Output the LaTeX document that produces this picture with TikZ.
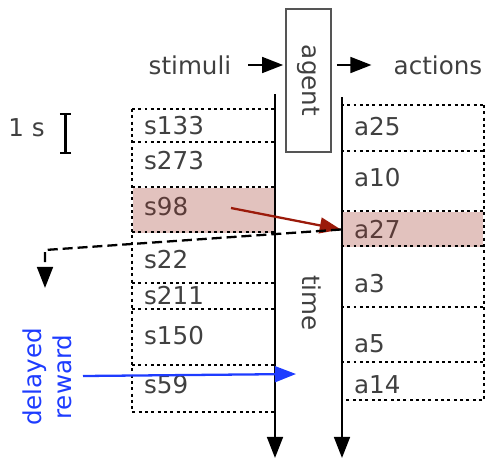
\documentclass[tikz,border=0pt]{standalone}
\usepackage{fontspec}
\setmainfont{DejaVu Sans}
\usetikzlibrary{arrows.meta}
\definecolor{txtgrey}{HTML}{404040}
\definecolor{agentgrey}{HTML}{555555}
\definecolor{hilite}{HTML}{E2C2BE}
\definecolor{hitext}{HTML}{5A3C39}
\definecolor{credit}{HTML}{9B1A0A}
\definecolor{rewardblue}{HTML}{1E3CFF}
\begin{document}
\begin{tikzpicture}[
  x=0.2cm, y=-0.2cm,
  every node/.style={font=\fontsize{14}{17}\selectfont, text=txtgrey, inner sep=0pt},
  slot/.style={minimum width=2.84cm},
  aslot/.style={minimum width=2.82cm},
  dots/.style={line width=1.4pt, dash pattern=on 1.7pt off 1.9pt},
  lbl/.style={anchor=west},
  >={Triangle[length=12pt,width=9pt]}, line width=1.3pt
]
  \useasboundingbox (0,0) rectangle (48.5,45.9);

  \node[slot, minimum height=0.66cm] (b133) at (20.4,12.65) {};
  \node[slot, minimum height=0.9cm]  (b273) at (20.4,16.55) {};
  \node[slot, fill=hilite, minimum height=0.9cm] (b98) at (20.4,21.05) {};
  \node[slot, minimum height=1.02cm] (b22)  at (20.4,25.85) {};
  \node[slot, minimum height=0.52cm] (b211) at (20.4,29.7)  {};
  \node[slot, minimum height=1.12cm] (b150) at (20.4,33.8)  {};
  \node[slot, minimum height=0.9cm]  (b59)  at (20.4,38.85) {};

  \node[aslot, minimum height=0.92cm] (b25) at (41.25,12.9)  {};
  \node[aslot, minimum height=1.2cm]  (b10) at (41.25,18.2)  {};
  \node[aslot, fill=hilite, minimum height=0.7cm] (b27) at (41.25,22.95) {};
  \node[aslot, minimum height=1.22cm] (b3)  at (41.25,27.75) {};
  \node[aslot, minimum height=1.1cm]  (b5)  at (41.25,33.55) {};
  \node[aslot, minimum height=0.72cm] (b14) at (41.25,38.1)  {};

  \foreach \b in {b133,b273,b98,b22,b211,b150,b59,b25,b10,b27,b3,b5,b14}
    \draw[dots] (\b.north west) -- (\b.north east);
  \draw[dots] (b133.north west) -- (b59.south west) -- (b59.south east);
  \draw[dots] (b25.north east) -- (b14.south east) -- (b14.south west);

  \node[lbl] (s133) at (14.3,12.6) {s133};
  \node[lbl] (s273) at (14.3,16.1) {s273};
  \node[lbl, text=hitext] (s98) at (14.3,20.7) {s98};
  \node[lbl] (s22)  at (14.3,26.0) {s22};
  \node[lbl] (s211) at (14.3,29.6) {s211};
  \node[lbl] (s150) at (14.3,33.6) {s150};
  \node[lbl] (s59)  at (14.3,38.5) {s59};

  \node[lbl] (a25) at (35.3,12.7) {a25};
  \node[lbl] (a10) at (35.3,17.8) {a10};
  \node[lbl, text=hitext] (a27) at (35.3,23.0) {a27};
  \node[lbl] (a3)  at (35.3,28.4) {a3};
  \node[lbl] (a5)  at (35.3,34.4) {a5};
  \node[lbl] (a14) at (35.3,38.5) {a14};

  \coordinate (ltop) at (27.5,9.4);
  \coordinate (lend) at (27.5,45.8);
  \coordinate (rtop) at (34.2,9.7);
  \coordinate (rend) at (34.2,45.8);
  \draw[->] (ltop) -- (lend);
  \draw[->] (rtop) -- (rend);

  \node[draw=agentgrey, fill=white, line width=1.2pt, minimum width=0.9cm, minimum height=2.86cm] (agent) at (30.85,8.05) {\rotatebox{-90}{agent}};
  \node (stimuli) at (19.0,6.5) {stimuli};
  \node (actions) at (43.8,6.5) {actions};
  \node[rotate=-90] (time) at (31.2,30.3) {time};
  \node (onesec) at (2.65,12.8) {1 s};
  \node[rotate=90, align=center, text=rewardblue] (reward) at (4.7,37.7) {delayed\\reward};

  \draw[->, shorten <=9pt, shorten >=1pt] (stimuli.east) -- (stimuli.east -| agent.west);
  \draw[->, shorten <=2.8pt, shorten >=12pt] (agent.east |- actions.west) -- (actions.west);
  \draw[{Bar[width=6.3pt]}-{Bar[width=6.3pt]}] (6.55,11.3) -- (6.55,15.4);

  \draw[->, credit] ([xshift=0.54cm,yshift=0.05cm]b98.center) -- (b27.west);

  \coordinate (fall) at (4.5,25.0);
  \coordinate (penalty) at (4.5,28.8);
  \draw[->, dash pattern=on 5.7pt off 2.8pt] (b27.west) -- (fall) -- (penalty);

  \coordinate (rwd) at (8.3,37.6);
  \coordinate (hit) at (29.6,37.4);
  \draw[->, rewardblue] (rwd) -- (hit);
\end{tikzpicture}
\end{document}
